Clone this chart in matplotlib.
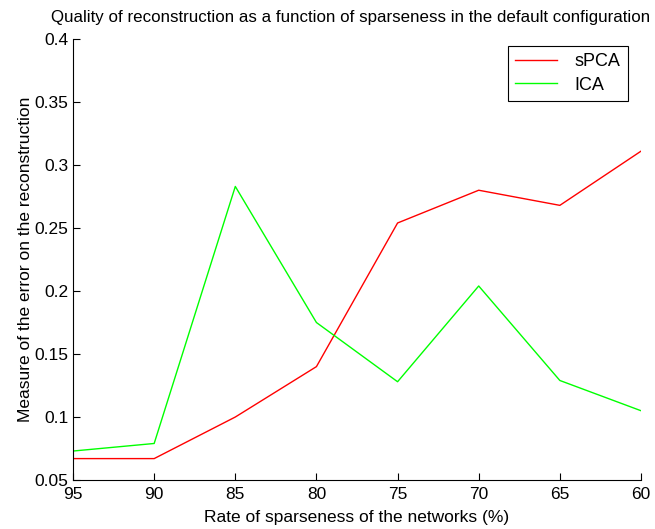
import matplotlib
matplotlib.use("Agg")
import matplotlib.pyplot as plt

sparseness = [95, 90, 85, 80, 75, 70, 65, 60]
spca = [0.067, 0.067, 0.100, 0.140, 0.254, 0.280, 0.268, 0.311]
ica = [0.073, 0.079, 0.283, 0.175, 0.128, 0.204, 0.129, 0.105]
yticks = [0.05, 0.1, 0.15, 0.2, 0.25, 0.3, 0.35, 0.4]
ytick_labels = ["0.05", "0.1", "0.15", "0.2", "0.25", "0.3", "0.35", "0.4"]

plt.rcParams['font.family'] = ['Liberation Sans', 'DejaVu Sans']

fig = plt.figure(figsize=(6.55, 5.29), dpi=100)
ax = fig.add_axes([0.1115, 0.0926, 0.8671, 0.8336])
ax.plot(sparseness, spca, color=(1, 0, 0), lw=1.0, label="sPCA")
ax.plot(sparseness, ica, color=(0, 1, 0), lw=1.0, label="ICA")
ax.set_xlim(95, 60)
ax.set_ylim(0.05, 0.4)
ax.set_xticks(sparseness)
ax.set_xticklabels([str(s) for s in sparseness])
ax.set_yticks(yticks)
ax.set_yticklabels(ytick_labels)
ax.spines['top'].set_visible(False)
ax.spines['right'].set_visible(False)
ax.tick_params(direction='in', length=5, labelsize=12.5, width=0.8)
ax.tick_params(axis='x', pad=5)
ax.set_xlabel("Rate of sparseness of the networks (%)", fontsize=12.5, labelpad=6)
ax.set_ylabel("Measure of the error on the reconstruction", fontsize=12.5, labelpad=1)
ax.set_title("Quality of reconstruction as a function of sparseness in the default configuration",
             fontsize=12.2, pad=12, x=0.488)
leg = ax.legend(loc='upper right', bbox_to_anchor=(0.977, 0.984), borderaxespad=0,
                fancybox=False, framealpha=1, edgecolor='black', fontsize=13,
                handlelength=2.3, borderpad=0.4, labelspacing=0.35, handletextpad=1.0)
leg.get_frame().set_linewidth(0.8)
fig.savefig("out.png", dpi=100)
